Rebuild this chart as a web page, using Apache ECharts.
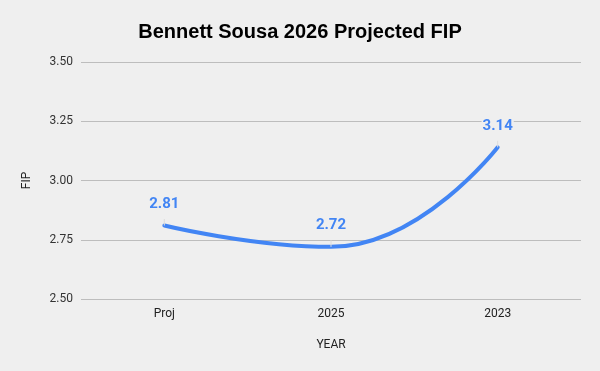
<!DOCTYPE html>
<html><head><meta charset="utf-8">
<script src="https://cdn.jsdelivr.net/npm/echarts@6/dist/echarts.min.js"></script>
<style>html,body{margin:0;padding:0;background:#efefef}#c{width:600px;height:371px}</style>
</head><body><div id="c"></div>
<script>
var categories = ["Proj", "2025", "2023"];
var fipValues = [2.81, 2.72, 3.14];
var yTicks = [2.50, 2.75, 3.00, 3.25, 3.50];
var titleText = "Bennett Sousa 2026 Projected FIP";

var chart = echarts.init(document.getElementById('c'));
chart.setOption({
  backgroundColor: '#efefef',
  animation: false,
  title: {
    text: titleText, left: 'center', top: 17,
    textStyle: {fontFamily: 'Liberation Sans, Arial', fontWeight: 'bold', fontSize: 20, color: '#000'}
  },
  grid: {left: 81, right: 19, top: 62, bottom: 72, containLabel: false},
  xAxis: {
    type: 'category', data: categories, boundaryGap: true,
    name: 'YEAR', nameLocation: 'middle', nameGap: 40,
    nameTextStyle: {fontFamily: 'Roboto', fontSize: 12, color: '#222'},
    axisLine: {show: false}, axisTick: {show: false},
    axisLabel: {fontFamily: 'Roboto', fontSize: 12, color: '#222', margin: 9}
  },
  yAxis: {
    type: 'value', min: yTicks[0], max: yTicks[yTicks.length - 1], interval: 0.25,
    name: 'FIP', nameLocation: 'middle', nameGap: 48, nameRotate: 90,
    nameTextStyle: {fontFamily: 'Roboto', fontSize: 12, color: '#222'},
    axisLine: {show: false}, axisTick: {show: false},
    axisLabel: {fontFamily: 'Roboto', fontSize: 12, color: '#333', margin: 8,
      formatter: function (v) { return v.toFixed(2); }},
    splitLine: {lineStyle: {color: '#bdbdbd', width: 1}}
  },
  series: [{
    type: 'line', data: fipValues, smooth: 0.5,
    symbol: 'circle', symbolSize: 0, showSymbol: true,
    lineStyle: {color: '#4285f4', width: 4, cap: 'round'},
    itemStyle: {color: '#4285f4', borderWidth: 0},
    label: {
      show: true, position: 'top', distance: 14,
      fontFamily: 'Roboto', fontWeight: 'bold', fontSize: 15, color: '#4285f4',
      backgroundColor: '#efefef', padding: [0, 1],
      formatter: function (p) { return p.value.toFixed(2); }
    },
    labelLine: {show: true, lineStyle: {color: '#dcdcdc', width: 1}}
  }]
});
</script></body></html>
